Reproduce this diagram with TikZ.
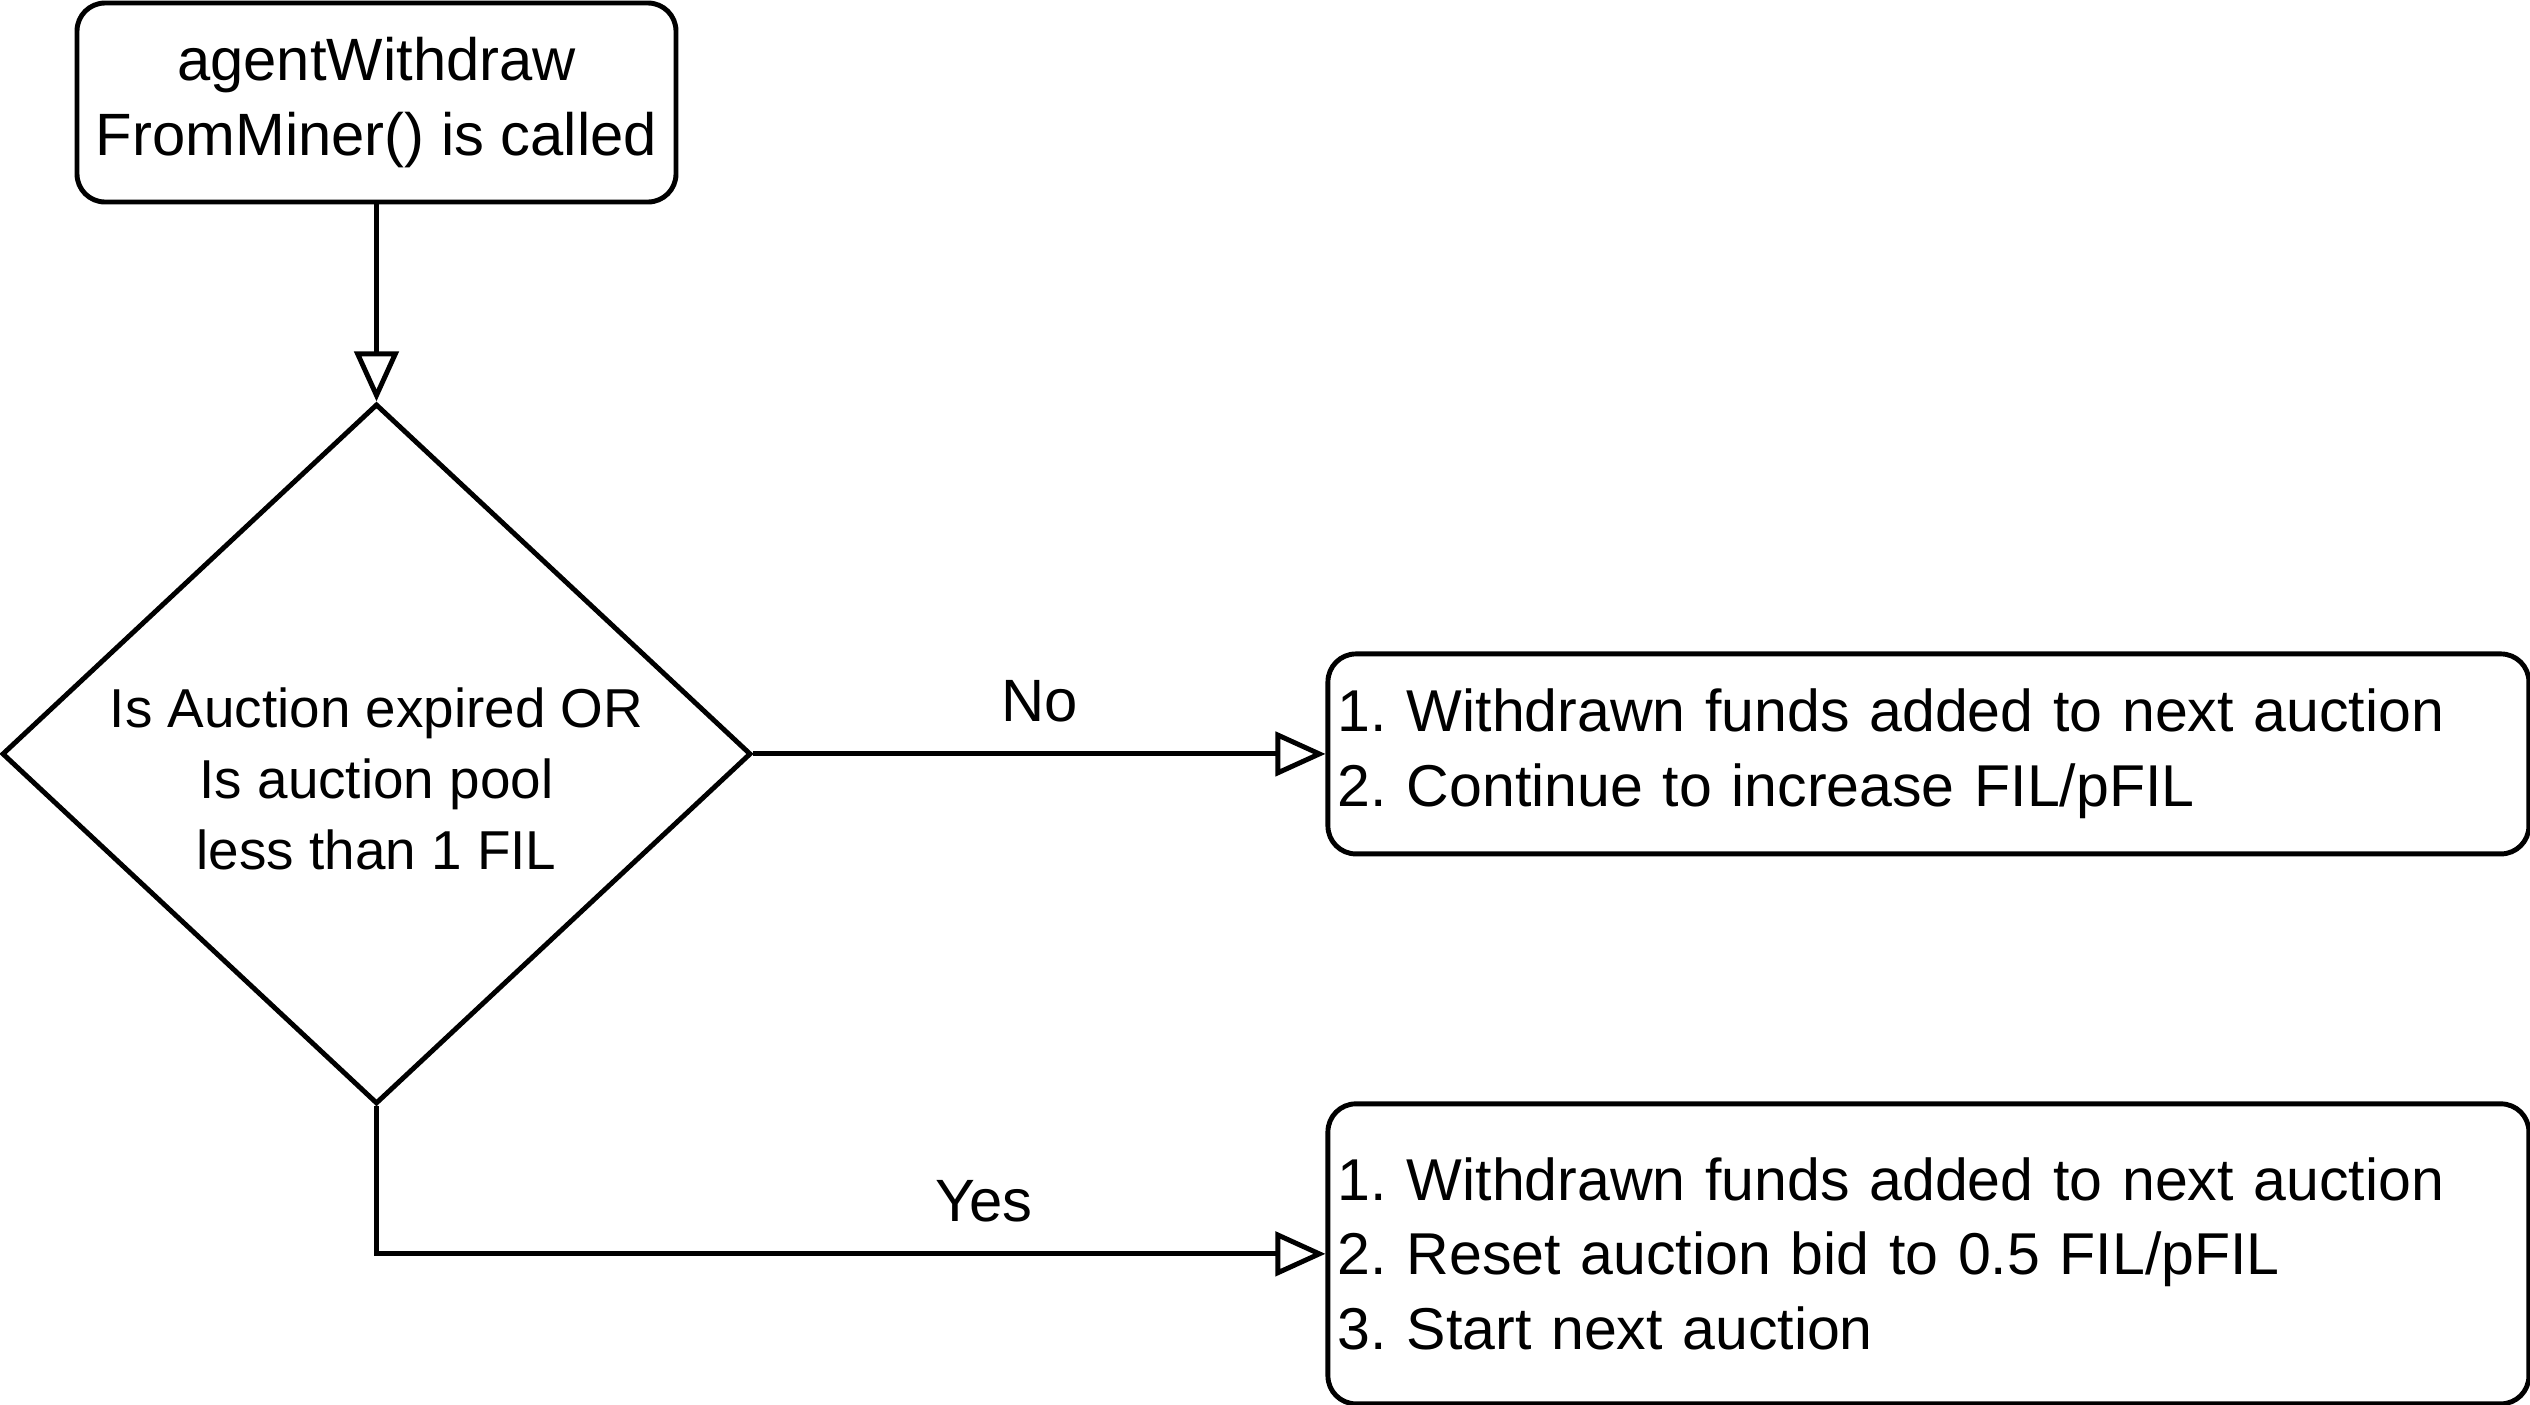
\documentclass[tikz,border=0pt]{standalone}
\usepackage{fontspec}
\setmainfont{Liberation Sans}
\usepackage{tikz}
\usetikzlibrary{positioning,arrows.meta,shapes.geometric}
\frenchspacing

\begin{document}
\begin{tikzpicture}[
  font=\fontsize{17}{21.6}\selectfont,
  line width=1.4pt,
  box/.style={draw, rounded corners=0.28cm, align=center,
              minimum width=5.99cm, minimum height=1.99cm, inner sep=2pt},
  stepbox/.style={draw, rounded corners=0.28cm, align=left,
              font=\fontsize{16.8}{21.2}\selectfont,
              text width=11.81cm, inner xsep=0.1cm, inner ysep=0pt,
              minimum width=12.01cm},
  dec/.style={diamond, draw, align=center, inner sep=-5mm,
              font=\fontsize{15.6}{20.2}\selectfont,
              minimum width=7.49cm, minimum height=7cm, text height=66pt},
  arr/.style={-{Triangle[open, length=5mm, width=4.4mm]}},
  lbl/.style={inner sep=0pt}
]
\useasboundingbox (0,0) rectangle (25.3,-14.05);

\node[box] (start) at (3.765,-1.025) {agentWithdraw\\FromMiner() is called};
\node[dec, below=1.97cm of start] (dec) {Is Auction expired OR\\Is auction pool\\less than 1 FIL};
\node[stepbox, minimum height=2cm, right=5.72cm of dec] (no)
  {1. Withdrawn funds added to next auction\\2. Continue to increase FIL/pFIL};
\node[stepbox, minimum height=3cm, below=2.45cm of no] (yes)
  {1. Withdrawn funds added to next auction\\2. Reset auction bid to 0.5 FIL/pFIL\\3. Start next auction};

\draw[arr] (start) -- (dec);
\draw[arr] (dec.east) -- node[lbl, above=0.29cm] (nolbl) {No} (no.west);
\draw[arr] (dec.south) |- node[lbl, pos=0.82, above=0.29cm] (yeslbl) {Yes} (yes.west);
\end{tikzpicture}
\end{document}
